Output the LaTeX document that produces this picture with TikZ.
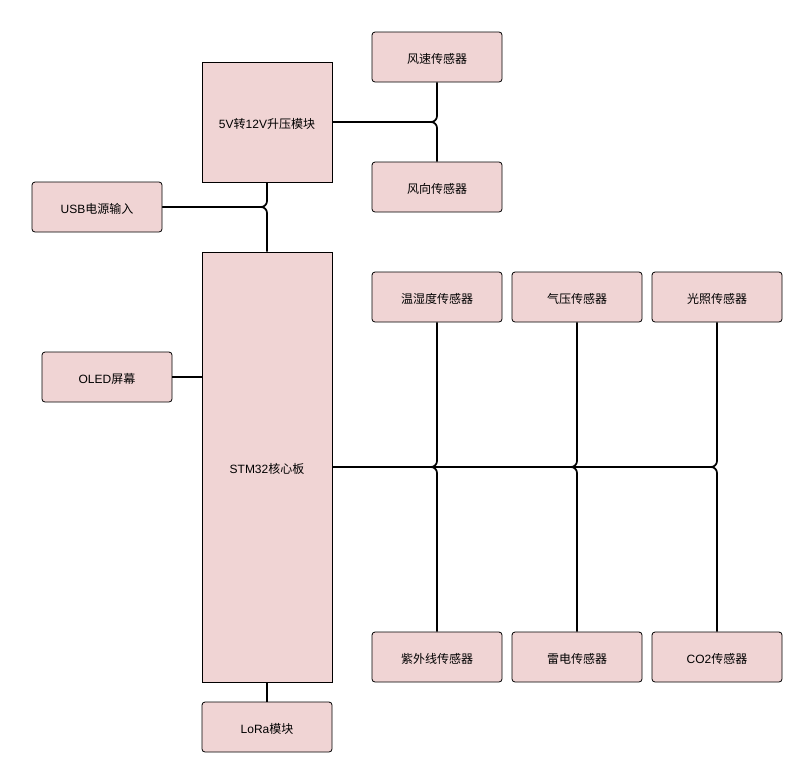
\documentclass[tikz,border=0pt]{standalone}
\usepackage{fontspec}
\setmainfont{Liberation Sans}
\newfontfamily\cjk{Noto Sans CJK SC}
\newcommand\zh[1]{{\cjk #1}}
\definecolor{boxfill}{RGB}{240,212,212}
\tikzset{
  box/.style={draw=black, fill=boxfill, minimum width=130pt, minimum height=50pt,
    rounded corners=3pt, font=\fontsize{12}{14}\selectfont, inner sep=0pt, line width=0.8pt,
    text height=13pt, text depth=1pt},
  bigbox/.style={box, rounded corners=0pt},
  wire/.style={line width=1.7pt, rounded corners=6pt, draw=black}
}
\begin{document}
\begin{tikzpicture}[x=1pt,y=-1pt]
\useasboundingbox (0,0) rectangle (799,769);
\node[box] (fs) at (437,57) {\zh{风速传感器}};
\node[box] (fx) at (437,187) {\zh{风向传感器}};
\node[bigbox, minimum height=120pt] (pw) at (267,122) {5V\zh{转}12V\zh{升压模块}};
\node[box] (usb) at (97,207) {USB\zh{电源输入}};
\node[bigbox, minimum height=430pt] (mcu) at (267,467) {STM32\zh{核心板}};
\node[box] (oled) at (107,377) {OLED\zh{屏幕}};
\node[box] (lora) at (267,727) {LoRa\zh{模块}};
\node[box] (wsd) at (437,297) {\zh{温湿度传感器}};
\node[box] (qy) at (577,297) {\zh{气压传感器}};
\node[box] (gz) at (717,297) {\zh{光照传感器}};
\node[box] (zwx) at (437,657) {\zh{紫外线传感器}};
\node[box] (ld) at (577,657) {\zh{雷电传感器}};
\node[box] (co2) at (717,657) {CO2\zh{传感器}};

\draw[wire] (pw.east) -| (fs.south);
\draw[wire] (pw.east) -| (fx.north);
\draw[wire] (usb.east) -| (pw.south);
\draw[wire] (usb.east) -| (mcu.north);
\draw[wire] (oled.east) -- (mcu.west |- oled.east);
\draw[wire] (mcu.south) -- (lora.north);
\foreach \t in {wsd,qy,gz}{\draw[wire] (mcu.east) -| (\t.south);}
\foreach \t in {zwx,ld,co2}{\draw[wire] (mcu.east) -| (\t.north);}
\end{tikzpicture}
\end{document}
